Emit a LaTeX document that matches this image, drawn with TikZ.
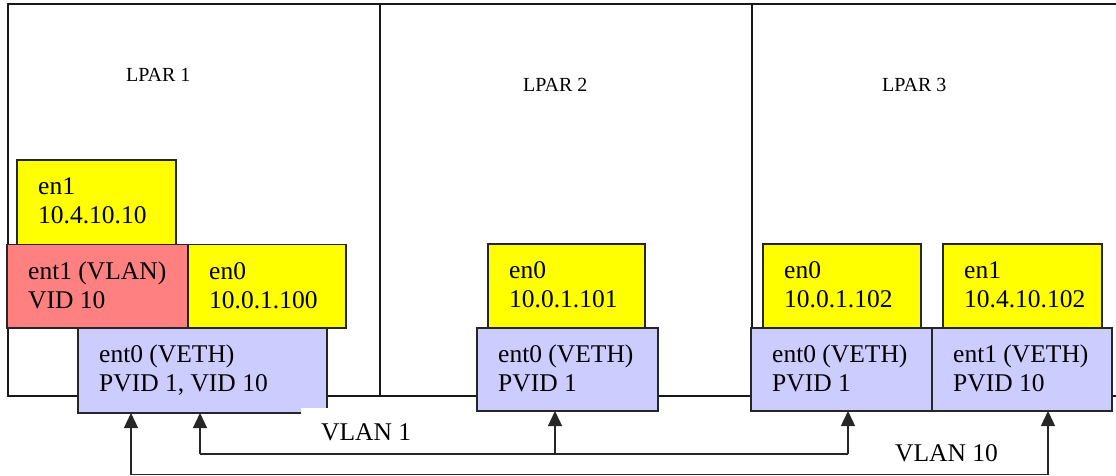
\documentclass[tikz,border=0pt]{standalone}
\usepackage{fontspec}
\setmainfont{Liberation Serif}
\usetikzlibrary{arrows.meta}

\definecolor{ifyellow}{HTML}{FFFF00}
\definecolor{ifred}{HTML}{FF8080}
\definecolor{iflav}{HTML}{CCCCFF}

% one interface box with two left-aligned lines of text
\newcommand\netbox[8]{%
  \node[box, #2, anchor=north west, minimum width={#5-#3}, minimum height={#6-#4}] (#1) at (#3,#4) {};
  \node[txt] (#1-l1) at ([xshift=21pt,yshift=-34.5pt]#1.north west) {#7};
  \node[txt] (#1-l2) at ([xshift=21pt,yshift=-63.5pt]#1.north west) {#8};
}

\begin{document}
\begin{tikzpicture}[x=1pt, y=-1pt,
  box/.style={draw=black!85, line width=1.6pt, inner sep=0pt, outer sep=0pt},
  enbox/.style={fill=ifyellow},
  vlanbox/.style={fill=ifred},
  vethbox/.style={fill=iflav},
  txt/.style={anchor=base west, inner sep=0pt, font=\fontsize{25.5}{29}\selectfont},
  lpar/.style={anchor=base west, inner sep=0pt, font=\fontsize{20}{24}\selectfont},
  frame/.style={draw=black!90, line width=1.5pt},
  wire/.style={draw=black!85, line width=1.3pt},
  arr/.style={wire, -{Triangle[width=14pt,length=15pt]}}]

\useasboundingbox (0,0) rectangle (1116,476);

% partition frames
\draw[frame] (1116,4) -- (8,4) -- (8,396) -- (1116,396);
\draw[frame] (380,4) -- (380,396);
\draw[frame] (752,4) -- (752,396);

\node[lpar] (lpar1) at (126,82) {LPAR 1};
\node[lpar] (lpar2) at (523,92) {LPAR 2};
\node[lpar] (lpar3) at (882,92) {LPAR 3};

% LPAR 1
\netbox{en1a}{enbox}{17}{160}{176}{244.5}{en1}{10.4.10.10}
\netbox{ent1a}{vlanbox}{7}{244.5}{188}{328}{ent1 (VLAN)}{VID 10}
\netbox{en0a}{enbox}{188}{244.5}{346}{328}{en0}{10.0.1.100}
\netbox{ent0a}{vethbox}{78}{328}{327}{413}{ent0 (VETH)}{PVID 1, VID 10}

% LPAR 2
\netbox{en0b}{enbox}{488}{244}{645}{328}{en0}{10.0.1.101}
\netbox{ent0b}{vethbox}{477}{328}{658}{411}{ent0 (VETH)}{PVID 1}

% LPAR 3
\netbox{en0c}{enbox}{763}{244}{921}{328}{en0}{10.0.1.102}
\netbox{en1c}{enbox}{943}{244}{1102}{328}{en1}{10.4.10.102}
\netbox{ent0c}{vethbox}{751}{328}{932}{411}{ent0 (VETH)}{PVID 1}
\netbox{ent1c}{vethbox}{932}{328}{1112}{411}{ent1 (VETH)}{PVID 10}

% VLAN 1 label on its white plate
\node[fill=white, inner sep=0pt, outer sep=0pt, anchor=north west,
      minimum width=152pt, minimum height=46pt] (v1plate) at (301,408) {};
\node[txt] (v1txt) at (321,440) {VLAN 1};
\node[txt] (v10txt) at (895,461) {VLAN 10};

% VLAN 1 network
\coordinate (v1a) at (200,454);
\coordinate (v1b) at (555,454);
\coordinate (v1c) at (848,454);
\draw[wire] (v1a) -- (v1c);
\draw[arr] (v1a) -- (v1a |- ent0a.south);
\draw[arr] (v1b) -- (v1b |- ent0b.south);
\draw[arr] (v1c) -- (v1c |- ent0c.south);

% VLAN 10 network
\coordinate (v10a) at (131,474.5);
\coordinate (v10b) at (1048,474.5);
\draw[wire] (v10a) -- (v10b);
\draw[arr] (v10a) -- (v10a |- ent0a.south);
\draw[arr] (v10b) -- (v10b |- ent1c.south);

\end{tikzpicture}
\end{document}
